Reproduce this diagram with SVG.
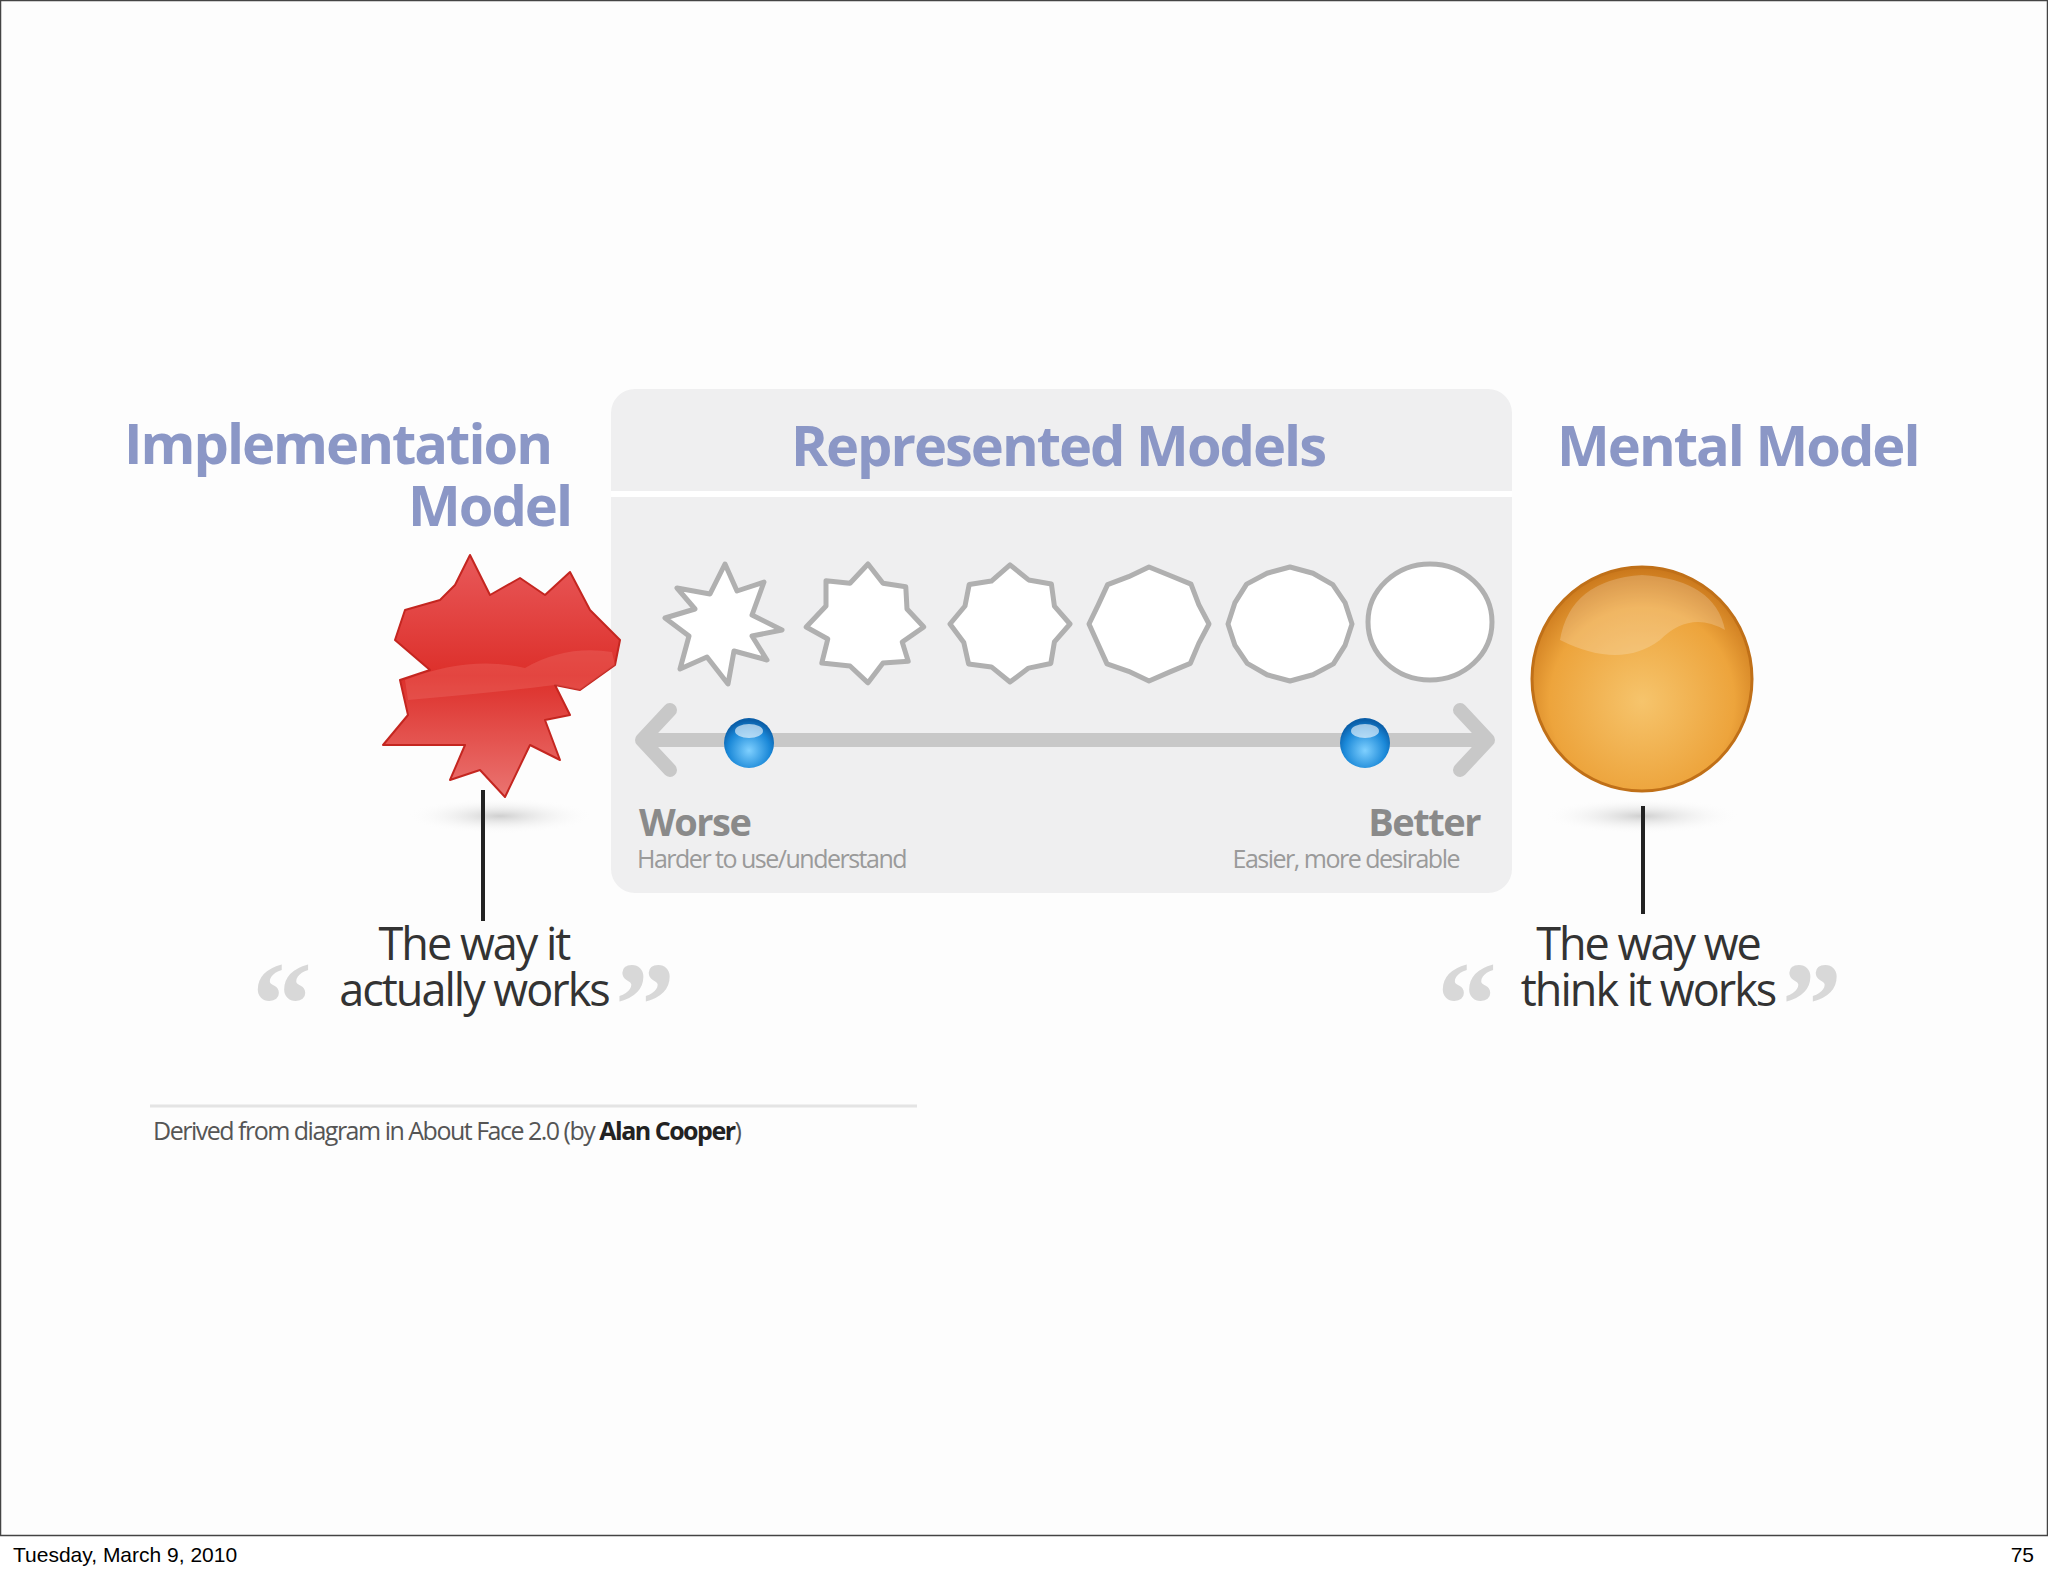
<svg xmlns="http://www.w3.org/2000/svg" width="2048" height="1576" viewBox="0 0 2048 1576">
<style>
.title{font-family:"Open Sans","Liberation Sans",sans-serif;font-weight:700;font-size:56px;fill:#8b97c6;letter-spacing:-2px}
.lbl{font-family:"Open Sans","Liberation Sans",sans-serif;font-weight:700;font-size:38px;fill:#8a8a8a;letter-spacing:-1.5px}
.sub{font-family:"Open Sans","Liberation Sans",sans-serif;font-size:25px;fill:#9a9a9a;letter-spacing:-1.5px}
.quote{font-family:"Open Sans","Liberation Sans",sans-serif;font-size:45px;fill:#333;letter-spacing:-2px}
.qm{font-family:"Liberation Serif",serif;font-weight:700;font-size:120px;fill:#d8d8d8}
.outline{fill:#fff;stroke:#b0b0b0;stroke-width:5;stroke-linejoin:round;vector-effect:non-scaling-stroke}
.foot{font-family:"Liberation Sans",Arial,sans-serif;font-size:21px;fill:#000}
</style>
<defs>
<linearGradient id="red" x1="0" y1="0" x2="0" y2="1"><stop offset="0" stop-color="#e8595a"/><stop offset="0.5" stop-color="#dd2f2a"/><stop offset="1" stop-color="#ea7471"/></linearGradient>
<radialGradient id="orange" cx="0.5" cy="0.6" r="0.6"><stop offset="0" stop-color="#f6c46c"/><stop offset="0.7" stop-color="#eda43c"/><stop offset="1" stop-color="#c9761a"/></radialGradient>
<radialGradient id="blue" cx="0.5" cy="0.65" r="0.6"><stop offset="0" stop-color="#7fd0ff"/><stop offset="0.7" stop-color="#1a88d8"/><stop offset="1" stop-color="#0a5ea8"/></radialGradient>
<radialGradient id="shadow" cx="0.5" cy="0.5" r="0.5"><stop offset="0" stop-color="#bbb" stop-opacity="0.7"/><stop offset="1" stop-color="#fff" stop-opacity="0"/></radialGradient>
</defs>
<rect width="2048" height="1576" fill="#fff"/>
<rect x="0.5" y="0.5" width="2047" height="1535" fill="#fdfdfd" stroke="#444" stroke-width="1.5"/>

<g id="panel">
<rect x="611" y="389" width="901" height="504" rx="24" fill="#efeff0"/>
<line x1="611" y1="494" x2="1512" y2="494" stroke="#fff" stroke-width="6"/>
<text class="title" x="1058" y="466" text-anchor="middle">Represented Models</text>
</g>

<g id="implementation">
<text class="title" x="551" y="464" text-anchor="end">Implementation</text>
<text class="title" x="571" y="526" text-anchor="end">Model</text>
<ellipse cx="500" cy="816" rx="95" ry="18" fill="url(#shadow)"/>
<path d="M440,600 L455,585 L470,555 L490,595 L520,578 L545,595 L570,572 L590,610 L620,640 L615,665 L580,690 L555,685 L570,715 L545,720 L560,760 L530,745 L505,797 L480,770 L450,780 L465,745 L383,745 L408,715 L400,680 L430,670 L395,640 L405,610 Z" fill="url(#red)" stroke="#c42620" stroke-width="2" stroke-linejoin="round"/>
<path d="M405,680 Q470,655 525,668 Q565,645 612,652 L615,665 L580,690 L555,685 Q500,692 408,700 Z" fill="#f27c74" opacity="0.3"/>
</g>

<g id="mental">
<text class="title" x="1557" y="466">Mental Model</text>
<ellipse cx="1642" cy="816" rx="100" ry="18" fill="url(#shadow)"/>
<ellipse cx="1642" cy="679" rx="110" ry="112" fill="url(#orange)" stroke="#c07018" stroke-width="3"/>
<path d="M1560,640 Q1570,580 1642,575 Q1715,580 1725,630 Q1690,610 1660,640 Q1620,670 1560,640 Z" fill="#fff" opacity="0.2"/>
</g>

<g id="shapes">
<polygon class="outline" transform="translate(722,624) scale(0.6,0.6)" points="100,10 50,20 75,60 20,45 10,100 -25,55 -70,75 -55,20 -95,-10 -45,-25 -75,-60 -20,-50 5,-100 25,-55 70,-70 50,-15"/>
<polygon class="outline" transform="translate(865,624) scale(0.6,0.6)" points="98,5 62,30 72,62 30,65 5,98 -25,70 -72,65 -62,25 -98,5 -65,-30 -65,-72 -25,-68 5,-100 30,-68 68,-62 70,-25"/>
<polygon class="outline" transform="translate(1010,624) scale(0.6,0.58)" points="100,0 74,31 68,68 31,76 0,100 -31,74 -69,69 -77,32 -100,0 -75,-31 -68,-68 -31,-74 0,-102 31,-76 69,-69 74,-31"/>
<polygon class="outline" transform="translate(1149,624) scale(0.6,0.57)" points="100,0 83,34 69,69 35,84 0,100 -34,83 -70,70 -85,35 -100,0 -84,-35 -69,-69 -34,-83 0,-100 35,-85 70,-70 83,-34"/>
<polygon class="outline" transform="translate(1290,624) scale(0.62,0.57)" points="100,0 89,37 70,70 37,89 0,100 -37,89 -69,69 -89,37 -100,0 -89,-37 -70,-70 -37,-89 0,-100 37,-89 69,-69 89,-37"/>
<ellipse class="outline" cx="1430" cy="622" rx="62" ry="58"/>
</g>

<g id="scale">
<line x1="645" y1="740" x2="1485" y2="740" stroke="#c8c8c8" stroke-width="14"/>
<polyline points="670,710 642,740 670,770" fill="none" stroke="#c8c8c8" stroke-width="14" stroke-linecap="round" stroke-linejoin="round"/>
<polyline points="1460,710 1488,740 1460,770" fill="none" stroke="#c8c8c8" stroke-width="14" stroke-linecap="round" stroke-linejoin="round"/>
<circle cx="749" cy="743" r="25" fill="url(#blue)"/>
<ellipse cx="749" cy="731" rx="14" ry="7" fill="#fff" opacity="0.6"/>
<circle cx="1365" cy="743" r="25" fill="url(#blue)"/>
<ellipse cx="1365" cy="731" rx="14" ry="7" fill="#fff" opacity="0.6"/>
<text class="lbl" x="639" y="836">Worse</text>
<text class="sub" x="637" y="868">Harder to use/understand</text>
<text class="lbl" x="1480" y="836" text-anchor="end">Better</text>
<text class="sub" x="1459" y="868" text-anchor="end">Easier, more desirable</text>
</g>

<g id="connectors">
<line x1="483" y1="790" x2="483" y2="921" stroke="#222" stroke-width="4"/>
<line x1="1643" y1="806" x2="1643" y2="914" stroke="#222" stroke-width="4"/>
</g>

<g id="quote-left">
<text class="qm" x="252" y="1045">“</text>
<text class="qm" x="615" y="1045">”</text>
<text class="quote" x="474" y="960" text-anchor="middle">The way it</text>
<text class="quote" x="474" y="1006" text-anchor="middle">actually works</text>
</g>
<g id="quote-right">
<text class="qm" x="1437" y="1045">“</text>
<text class="qm" x="1782" y="1045">”</text>
<text class="quote" x="1648" y="960" text-anchor="middle">The way we</text>
<text class="quote" x="1648" y="1006" text-anchor="middle">think it works</text>
</g>

<g id="credit">
<line x1="150" y1="1106" x2="917" y2="1106" stroke="#e4e4e4" stroke-width="3"/>
<text class="sub" x="153" y="1140" style="fill:#555">Derived from diagram in About Face 2.0 (by <tspan font-weight="700" fill="#222">Alan Cooper</tspan>)</text>
</g>

<g id="footer">
<text class="foot" x="13" y="1562">Tuesday, March 9, 2010</text>
<text class="foot" x="2034" y="1562" text-anchor="end">75</text>
</g>
</svg>
